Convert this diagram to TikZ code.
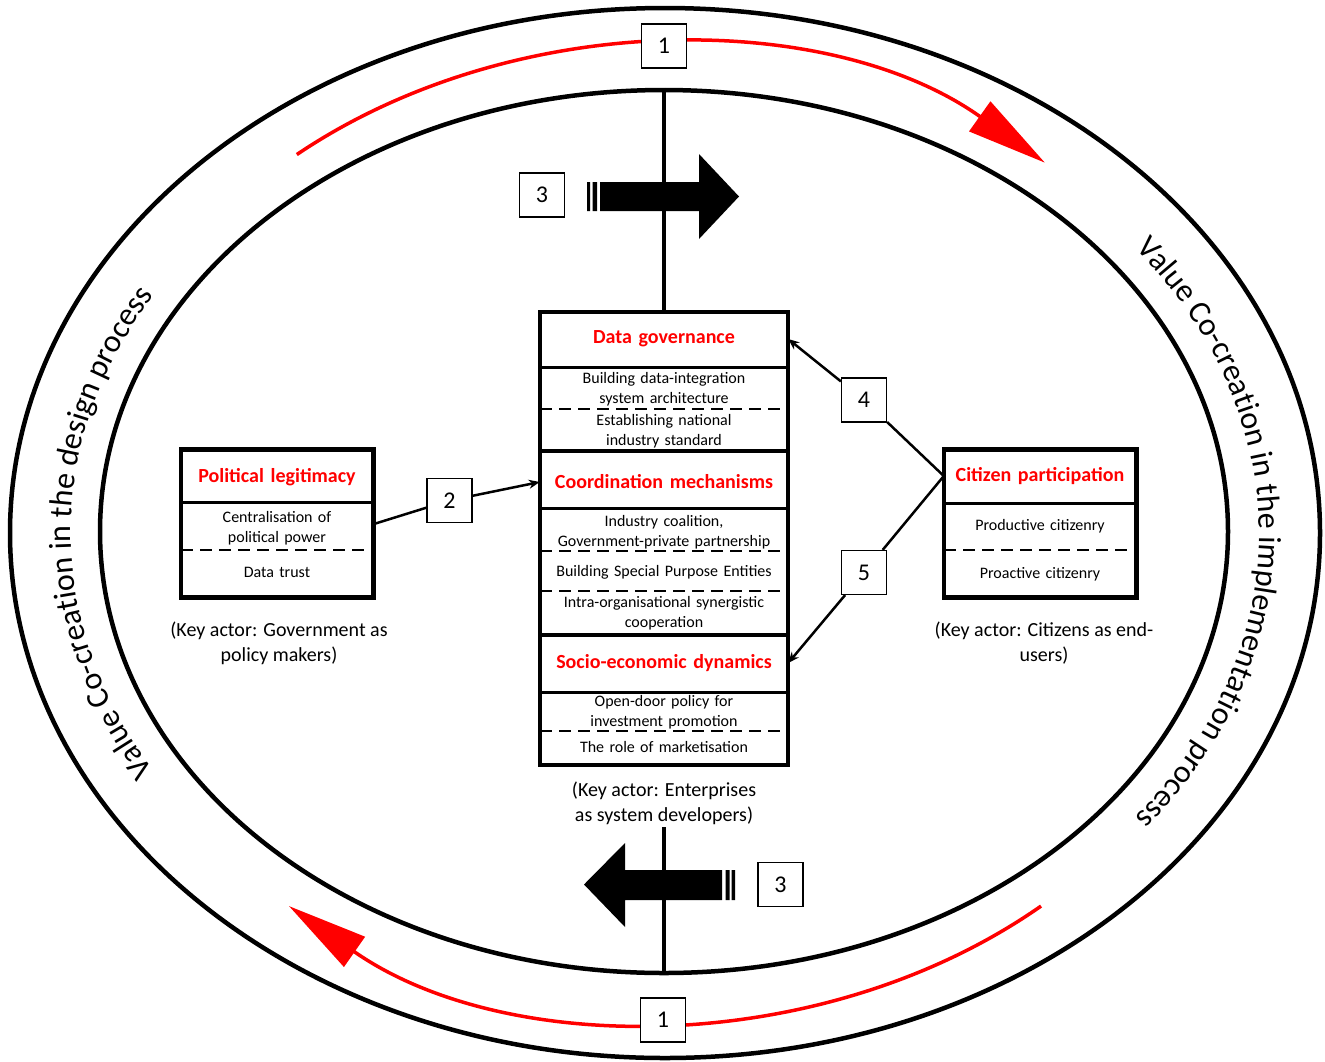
\documentclass[tikz,border=0pt]{standalone}
\usepackage{fontspec}
\setmainfont{Carlito}
\usetikzlibrary{arrows.meta, shapes.geometric, decorations.text}

\begin{document}
\begin{tikzpicture}[x=1pt, y=-1pt,
    ringline/.style={draw, ellipse, line width=4.5pt, inner sep=0pt},
    redarc/.style={red, line width=3.5pt, -{Triangle[length=80pt, width=36pt]}},
    boxframe/.style={draw, line width=4.5pt, inner sep=0pt},
    rowline/.style={line width=3pt},
    dashline/.style={line width=2.5pt, dash pattern=on 12pt off 7pt},
    rowhead/.style={text=red, font=\bfseries\fontsize{20}{24}\selectfont, text width=#1, align=center, inner sep=0pt},
    rowitem/.style={font=\fontsize{16}{19.5}\selectfont, text width=#1, align=center, inner sep=0pt},
    keyactor/.style={font=\fontsize{20}{25}\selectfont, align=center, inner sep=2pt},
    numbox/.style={draw, line width=1.2pt, fill=white, minimum width=45pt, minimum height=44pt, inner sep=0pt, font=\fontsize{24}{28}\selectfont},
    conn/.style={line width=2.5pt, -{Stealth[length=11pt, width=9pt]}}]
    \useasboundingbox (0,0) rectangle (1325,1061);

    \node[ringline, minimum width=1310pt, minimum height=1050pt] (outer) at (665,533) {};
    \node[ringline, minimum width=1128pt, minimum height=883pt] (inner) at (664,531.5) {};

    \draw[redarc] (665,533) ++(-129:585 and 487) arc[start angle=-129, end angle=-49.5, x radius=585, y radius=487];
    \draw[redarc] (665,533) ++(50:585 and 487) arc[start angle=50, end angle=130, x radius=585, y radius=487];

    \path[decorate, decoration={text along path, text align=center,
        text={|\fontsize{32}{38}\selectfont|Value Co-creation in the design process}}]
        (665,533) ++(120:594 and 466) arc[start angle=120, end angle=240, x radius=594, y radius=466];
    \path[decorate, decoration={text along path, text align=center,
        text={|\fontsize{32}{38}\selectfont|Value Co-creation in the implementation process}}]
        (665,533) ++(-60:594 and 466) arc[start angle=-60, end angle=60, x radius=594, y radius=466];

    % central box
    \node[boxframe, minimum width=248pt, minimum height=453pt] (cbox) at (664,538.5) {};
    \node[rowhead=248pt] (dg) at (664,339) {Data governance};
    \node[rowitem=240pt] (dg1) at (664,389) {Building data-integration\\system architecture};
    \node[rowitem=240pt] (dg2) at (664,431) {Establishing national\\industry standard};
    \node[rowhead=248pt] (cm) at (664,482) {Coordination mechanisms};
    \node[rowitem=240pt] (cm1) at (664,532) {Industry coalition,\\Government-private partnership};
    \node[rowitem=240pt] (cm2) at (664,572) {Building Special Purpose Entities};
    \node[rowitem=240pt] (cm3) at (664,613) {Intra-organisational synergistic\\cooperation};
    \node[rowhead=248pt] (sd) at (664,663) {Socio-economic dynamics};
    \node[rowitem=240pt] (sd1) at (664,712) {Open-door policy for\\investment promotion};
    \node[rowitem=240pt] (sd2) at (664,747) {The role of marketisation};
    \draw[rowline] (540,367) -- (788,367);
    \draw[dashline] (540,409) -- (788,409);
    \draw[line width=4.5pt] (540,451) -- (788,451);
    \draw[rowline] (540,508) -- (788,508);
    \draw[dashline] (540,551) -- (788,551);
    \draw[dashline] (540,591) -- (788,591);
    \draw[line width=4.5pt] (540,635) -- (788,635);
    \draw[rowline] (540,692) -- (788,692);
    \draw[dashline] (540,731) -- (788,731);
    \node[keyactor] (ent) at (664,803.5) {(Key actor: Enterprises\\as system developers)};

    % left box
    \node[boxframe, minimum width=192.5pt, minimum height=148pt] (plbox) at (277,523.5) {};
    \node[rowhead=192pt] (pl) at (277,477) {Political legitimacy};
    \node[rowitem=188pt] (pl1) at (277,528) {Centralisation of\\political power};
    \node[rowitem=188pt] (pl2) at (277,572) {Data trust};
    \draw[rowline] (181,502) -- (373,502);
    \draw[dashline] (181,550) -- (373,550);
    \node[keyactor] (gov) at (279,643.5) {(Key actor: Government as\\policy makers)};

    % right box
    \node[boxframe, minimum width=192.5pt, minimum height=148pt] (cpbox) at (1040,523.5) {};
    \node[rowhead=192pt] (cp) at (1040,476) {Citizen participation};
    \node[rowitem=188pt] (cp1) at (1040,526) {Productive citizenry};
    \node[rowitem=188pt] (cp2) at (1040,574) {Proactive citizenry};
    \draw[rowline] (944,503) -- (1136,503);
    \draw[dashline] (944,550) -- (1136,550);
    \node[keyactor] (cit) at (1044,643.5) {(Key actor: Citizens as end-\\users)};

    % axis and block arrows
    \draw[line width=4.5pt] (inner.north) -- (cbox.north);
    \draw[line width=4.5pt] (ent.south) -- (inner.south);
    \fill (587,182) rectangle (590,211) (592.5,182) rectangle (597,211)
        (600,182) -- (699,182) -- (699,154) -- (739,196.5) -- (699,239) -- (699,211) -- (600,211) -- cycle;
    \fill (735,870) rectangle (731.5,900) (729.5,870) rectangle (725.5,900)
        (722,870) -- (625,870) -- (625,843) -- (584,884.5) -- (625,927) -- (625,900) -- (722,900) -- cycle;

    \node[numbox] (n1a) at (664,46) {1};
    \node[numbox] (n1b) at (663,1020) {1};
    \node[numbox] (n2) at (449.5,500.5) {2};
    \node[numbox] (n3a) at (542,195) {3};
    \node[numbox] (n3b) at (780.5,884.5) {3};
    \node[numbox] (n4) at (864,400) {4};
    \node[numbox] (n5) at (864,572.5) {5};

    \draw[conn] (plbox.east) -- (n2) -- (cm.west);
    \draw[conn] (cp.west) -- (n4) -- (dg.east);
    \draw[conn] (cp.west) -- (n5) -- (sd.east);
\end{tikzpicture}
\end{document}
